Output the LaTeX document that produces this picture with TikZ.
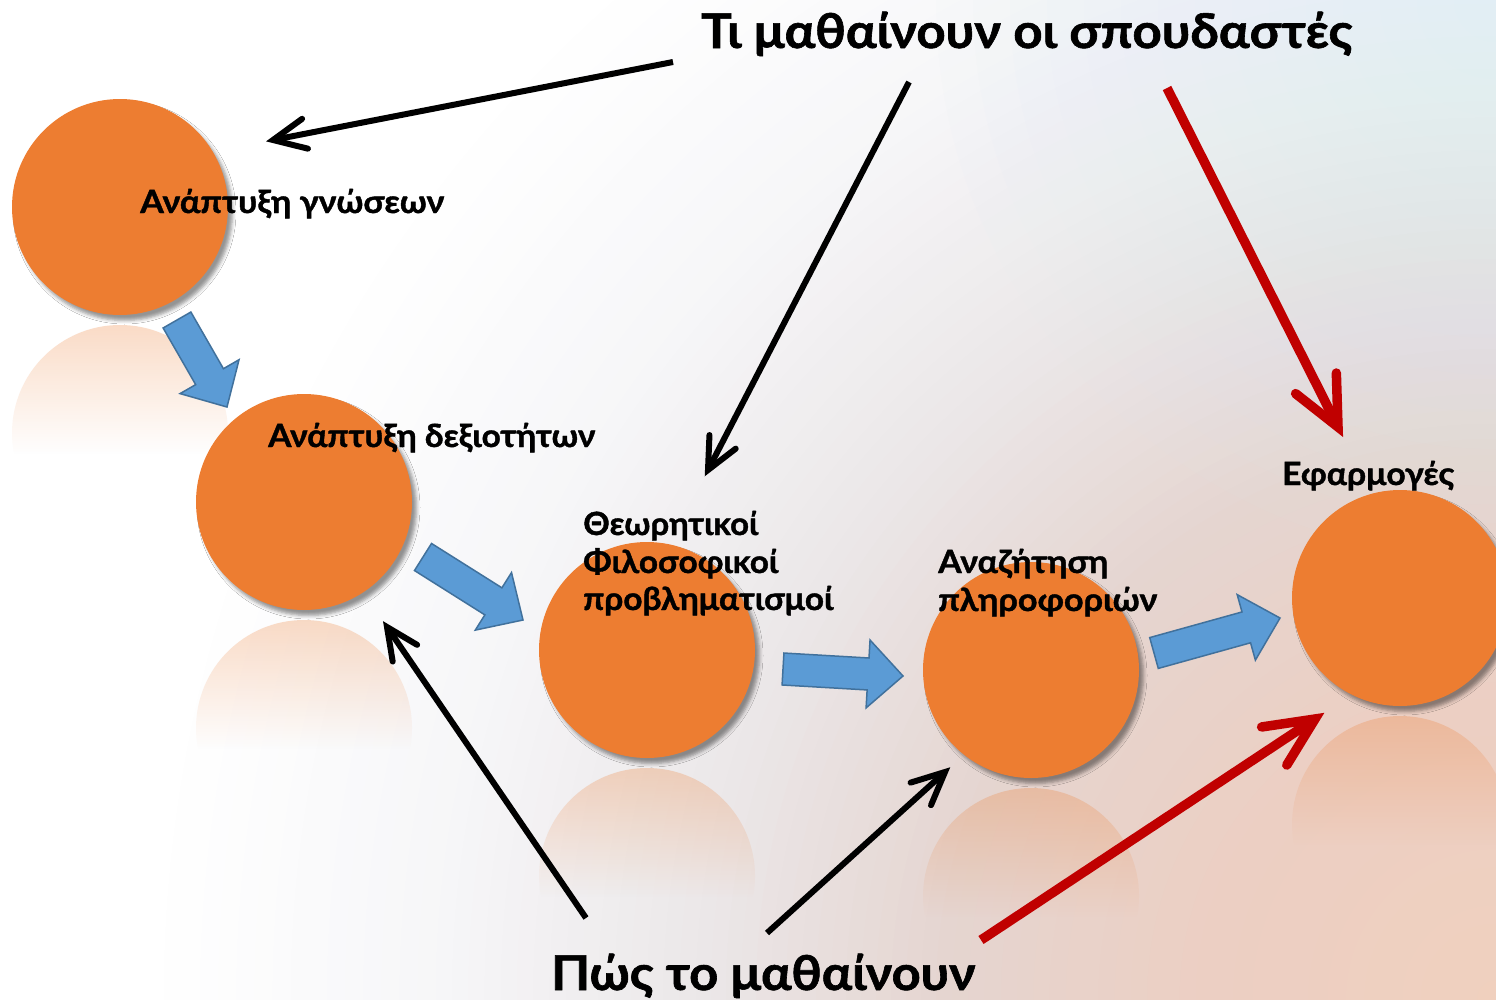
\documentclass[tikz,border=0pt]{standalone}
\usepackage{fontspec}
\setmainfont{Lato}[BoldFeatures={FakeBold=1.2}]
\usepackage{graphicx}
\usetikzlibrary{calc,shadows.blur,fadings}
\definecolor{orng}{HTML}{ED7D31}
\definecolor{bfill}{HTML}{5B9BD5}
\definecolor{bline}{HTML}{41719C}
\definecolor{dred}{HTML}{C00000}
\definecolor{bgA}{HTML}{F0D0BE}
\definecolor{bgAA}{HTML}{ECCFC3}
\definecolor{bgB}{HTML}{E5D5D0}
\definecolor{bgC}{HTML}{EBE7E8}
\definecolor{bgD}{HTML}{F6F6F8}
\definecolor{bgblue}{HTML}{DCEEF6}
\pgfdeclareverticalshading{reflshade}{100bp}{color(0bp)=(pgftransparent!100); color(45bp)=(pgftransparent!100); color(100bp)=(pgftransparent!50)}
\pgfdeclarefading{reflfade}{\pgfuseshading{reflshade}}
\newcommand\fitw[2]{\resizebox{#1}{\height}{#2}}
\newcommand\ringband[4]{% outer colour, inner colour, outer radius, inner radius
  \foreach \k in {0,...,15}{%
    \pgfmathsetmacro\rr{#3-(#3-#4)*\k/16}%
    \pgfmathtruncatemacro\pp{100*\k/16}%
    \fill[#2!\pp!#1] (bgc) circle (\rr pt);}}
\newcommand\blockarr[2]{%
  \coordinate (#1-h) at ($(#2)!35pt!(#1)$);
  \draw[blockarrow] ($(#1)!16pt!90:(#2)$) -- ($(#1-h)!16pt!90:(#2)$) -- ($(#1-h)!34pt!90:(#2)$) -- (#2)
    -- ($(#1-h)!34pt!-90:(#2)$) -- ($(#1-h)!16pt!-90:(#2)$) -- ($(#1)!16pt!-90:(#2)$) -- cycle;}
\newcommand\openarr[4]{% style, tail, tip, arm length
  \draw[#1, line cap=butt] (#2) -- (#3);
  \draw[#1, line cap=round, line join=miter] ($(#3)!#4!25:(#2)$) -- (#3) -- ($(#3)!#4!-25:(#2)$);}
\begin{document}
\begin{tikzpicture}[x=1pt,y=-1pt,
  ball/.style={circle, fill=orng, minimum size=216pt, inner sep=0pt,
    blur shadow={shadow xshift=4.5pt, shadow yshift=-5.5pt, shadow blur radius=3.5pt, shadow opacity=42}},
  refl/.style={fill=orng, path fading=reflfade},
  blockarrow/.style={fill=bfill, draw=bline, line width=1.5pt, line join=miter},
  lbl/.style={inner sep=0pt, anchor=base west, font=\bfseries\fontsize{32}{38}\selectfont},
  ttl/.style={inner sep=0pt, anchor=base west, font=\bfseries\fontsize{48}{56}\selectfont},
  blk/.style={draw=black, line width=6pt},
  redl/.style={draw=dred, line width=9.5pt}]
\useasboundingbox (0,0) rectangle (1496,999);
\clip (0,0) rectangle (1496,999);
% background
\fill[white] (0,0) rectangle (1496,999);
\coordinate (bgc) at (1496,999);
\ringband{white}{bgD}{1350}{1060}
\ringband{bgD}{bgC}{1060}{800}
\ringband{bgC}{bgB}{800}{560}
\ringband{bgB}{bgAA}{560}{300}
\ringband{bgAA}{bgA}{300}{0}
\coordinate (bgt) at (1496,0);
\foreach \k in {0,...,14}{\pgfmathsetmacro\rb{560-\k*37}\fill[bgblue, fill opacity=0.05] (bgt) circle (\rb pt);}
% reflections
\fill[refl] (120,433) circle (108pt);
\fill[refl] (304,728) circle (108pt);
\fill[refl] (647,876) circle (108pt);
\fill[refl] (1031,896) circle (108pt);
\fill[refl] (1400,824) circle (108pt);
% circles
\node[ball] (c1) at (120,207) {};
\node[ball] (c2) at (304,502) {};
\node[ball] (c3) at (647,650) {};
\node[ball] (c4) at (1031,670) {};
\node[ball] (c5) at (1400,598) {};
% block arrows
\coordinate (b1) at (177,320); \coordinate (b1t) at (227,407);
\coordinate (b2) at (423,557); \coordinate (b2t) at (523,620);
\coordinate (b3) at (783,669); \coordinate (b3t) at (903,676);
\coordinate (b4) at (1154,653); \coordinate (b4t) at (1280,618);
\blockarr{b1}{b1t}
\blockarr{b2}{b2t}
\blockarr{b3}{b3t}
\blockarr{b4}{b4t}
% labels
\node[lbl] (l1) at (140,213) {\fitw{304pt}{Ανάπτυξη γνώσεων}};
\node[lbl] (l2) at (268,447) {\fitw{327pt}{Ανάπτυξη δεξιοτήτων}};
\node[lbl] (l3a) at (583,535) {\fitw{175pt}{Θεωρητικοί}};
\node[lbl] (l3b) at (583,573) {\fitw{195pt}{Φιλοσοφικοί}};
\node[lbl] (l3c) at (583,610) {\fitw{250pt}{προβληματισμοί}};
\node[lbl] (l4a) at (938,573) {\fitw{170pt}{Αναζήτηση}};
\node[lbl] (l4b) at (938,611) {\fitw{219pt}{πληροφοριών}};
\node[lbl] (l5) at (1282,485) {\fitw{172pt}{Εφαρμογές}};
\node[ttl] (top) at (701,48) {\fitw{651pt}{Τι μαθαίνουν οι σπουδαστές}};
\node[ttl] (bot) at (551,990) {\fitw{424pt}{Πώς το μαθαίνουν}};
% pointer arrows
\coordinate (a1) at (673,62);  \coordinate (a1t) at (273,140);
\coordinate (a2) at (909,82);  \coordinate (a2t) at (708,470);
\coordinate (a3) at (1167,88); \coordinate (a3t) at (1338,427);
\coordinate (a4) at (586,918); \coordinate (a4t) at (387,627);
\coordinate (a5) at (767,933); \coordinate (a5t) at (945,772);
\coordinate (a6) at (981,940); \coordinate (a6t) at (1315,719);
\openarr{blk}{a1}{a1t}{36pt}
\openarr{blk}{a2}{a2t}{35pt}
\openarr{redl}{a3}{a3t}{54pt}
\openarr{blk}{a4}{a4t}{35pt}
\openarr{blk}{a5}{a5t}{36pt}
\openarr{redl}{a6}{a6t}{54pt}
\end{tikzpicture}
\end{document}
